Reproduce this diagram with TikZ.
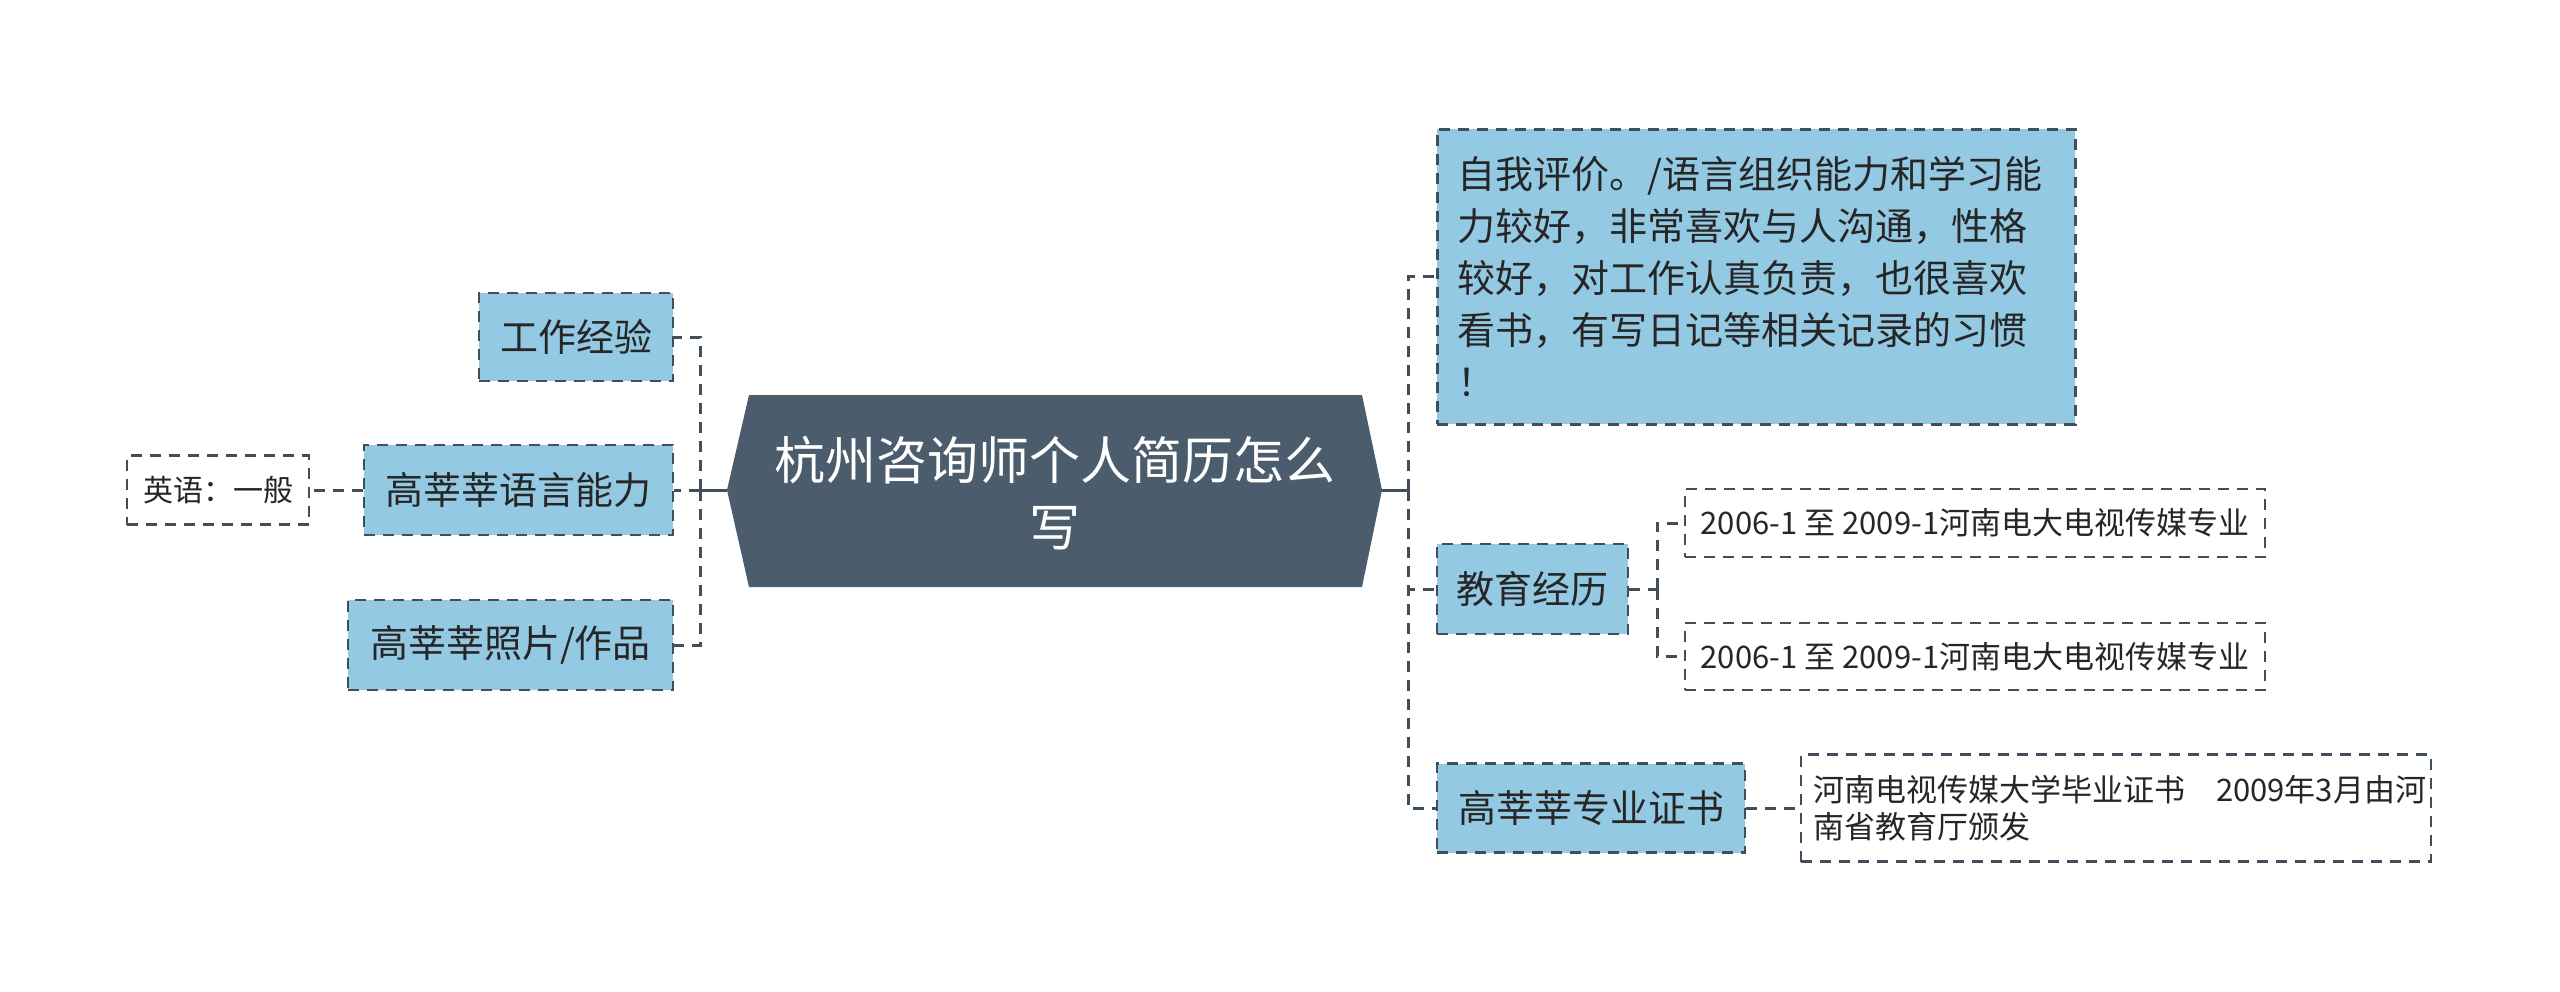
\documentclass[tikz,border=0pt]{standalone}
\usepackage{fontspec}
\setmainfont{Noto Sans CJK SC}
\definecolor{boxfill}{HTML}{94C9E3}
\definecolor{hexfill}{HTML}{4B5D6C}
\definecolor{linec}{HTML}{414F5C}
\definecolor{txt}{HTML}{262626}
\tikzset{
  topic/.style={draw=linec, fill=boxfill, line width=2.8pt, dash pattern=on 11pt off 8pt,
    inner sep=0pt, text=txt, font=\fontsize{38}{52}\selectfont},
  leaf/.style={draw=linec, fill=white, line width=2.6pt, dash pattern=on 11pt off 8pt,
    inner sep=0pt, text=txt, font=\fontsize{31}{37.5}\selectfont},
  conn/.style={draw=linec, line width=3pt, dash pattern=on 11pt off 8pt},
  stub/.style={draw=linec, line width=3pt}
}
\begin{document}
\begin{tikzpicture}[x=1pt,y=-1pt]
\useasboundingbox[fill=white] (0,0) rectangle (2560,991);

% central hexagon
\fill[hexfill] (727,490) -- (749,395) -- (1362,395) -- (1382,490) -- (1362,587) -- (749,587) -- cycle;
\coordinate (hexL) at (727,490);
\coordinate (hexR) at (1382,490);
\node[align=center, text=white, font=\fontsize{51}{67}\selectfont] (title) at (1055,493) {杭州咨询师个人简历怎么\\写};

% left side
\node[topic, minimum width=194pt, minimum height=88pt] (work) at (576,337) {工作经验};
\node[topic, minimum width=309pt, minimum height=90pt] (lang) at (518.5,490) {高莘莘语言能力};
\node[topic, minimum width=325pt, minimum height=90pt] (photo) at (510.5,645) {高莘莘照片/作品};
\node[leaf, minimum width=182pt, minimum height=69pt, font=\fontsize{30}{37.5}\selectfont] (en) at (218,490) {英语：一般};

% right side
\node[topic, anchor=north west, minimum width=638pt, minimum height=295pt, text width=598pt,
  inner xsep=20pt, align=left] (self) at (1436,128)
  {自我评价。/语言组织能力和学习能\\力较好，非常喜欢与人沟通，性格\\较好，对工作认真负责，也很喜欢\\看书，有写日记等相关记录的习惯\\！};
\node[topic, minimum width=191pt, minimum height=90pt] (edu) at (1532.5,589) {教育经历};
\node[topic, minimum width=308pt, minimum height=89pt] (cert) at (1591,808) {高莘莘专业证书};

\node[leaf, minimum width=580pt, minimum height=68pt] (e1) at (1975,523) {2006-1 至 2009-1河南电大电视传媒专业};
\node[leaf, minimum width=580pt, minimum height=67pt] (e2) at (1975,656.5) {2006-1 至 2009-1河南电大电视传媒专业};
\node[leaf, minimum width=630pt, minimum height=107pt, text width=606pt, inner xsep=12pt, align=left] (c1) at (2116,808)
  {河南电视传媒大学毕业证书　2009年3月由河\\南省教育厅颁发};

% connectors
\coordinate (hubL) at (700,490);
\coordinate (hubR) at (1408,490);
\coordinate (hubE) at (1657,589);
\draw[stub] (hexL) -- (hubL);
\draw[stub] (hexR) -- (hubR);
\draw[conn] (hubL) |- (work.east);
\draw[conn] (hubL) |- (photo.east);
\draw[conn] (hubL) -- (lang.east);
\draw[conn] (lang.west) -- (en.east);
\draw[conn] (hubR) |- (self.west);
\draw[conn] (hubR) |- (edu.west);
\draw[conn] (hubR) |- (cert.west);
\draw[conn] (edu.east) -- (hubE);
\draw[conn] (hubE) |- (e1.west);
\draw[conn] (hubE) |- (e2.west);
\draw[conn] (cert.east) -- (c1.west);
\end{tikzpicture}
\end{document}
